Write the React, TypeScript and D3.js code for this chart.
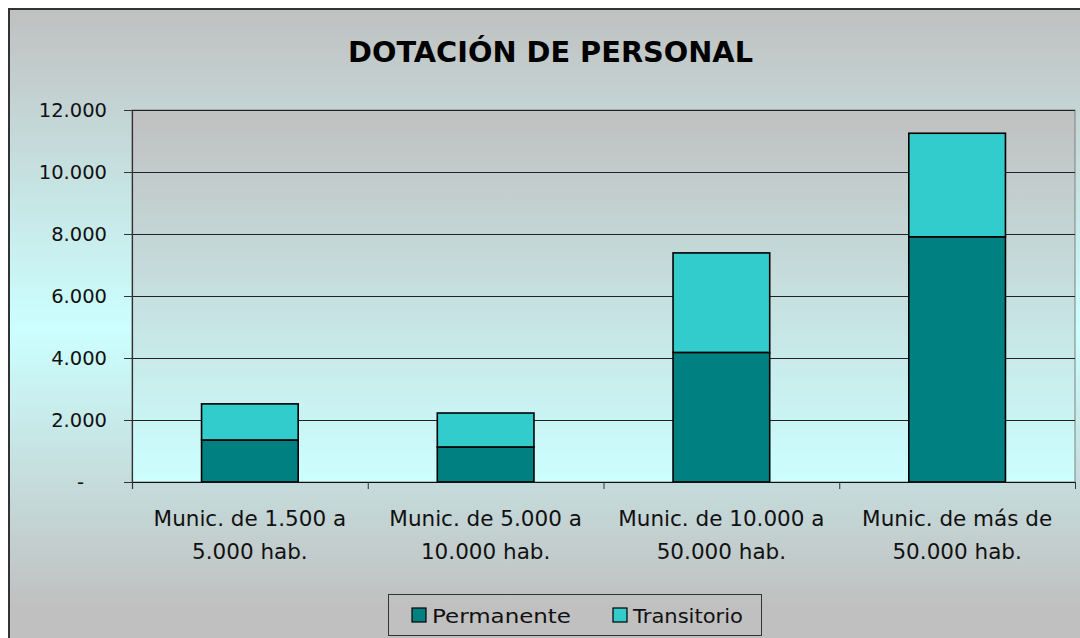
import React from "react";
import * as d3 from "d3";

const categories: string[][] = [
  ["Munic. de 1.500 a", "5.000 hab."],
  ["Munic. de 5.000 a", "10.000 hab."],
  ["Munic. de 10.000 a", "50.000 hab."],
  ["Munic. de más de", "50.000 hab."],
];
const permanente: number[] = [1355, 1130, 4180, 7910];
const transitorio: number[] = [1165, 1095, 3210, 3340];
const yTicks: number[] = [0, 2000, 4000, 6000, 8000, 10000, 12000];
const yTickLabels: string[] = ["-", "2.000", "4.000", "6.000", "8.000", "10.000", "12.000"];
const seriesNames: string[] = ["Permanente", "Transitorio"];
const seriesColors: string[] = ["#008080", "#33CCCC"];
const title = "DOTACIÓN DE PERSONAL";

const W = 1080;
const H = 638;
const plot = { left: 132, right: 1075, top: 110, bottom: 482 };
const FONT = "'DejaVu Sans', 'Century Gothic', sans-serif";

export default function App() {
  const catIdx = categories.map((_, i) => String(i));
  const xCat = d3.scaleBand<string>().domain(catIdx).range([plot.left, plot.right]).padding(0);
  const xBar = d3
    .scaleBand<string>()
    .domain(catIdx)
    .range([plot.left, plot.right])
    .paddingInner(0.59)
    .paddingOuter(0.295);
  const y = d3.scaleLinear().domain([0, 12000]).range([plot.bottom, plot.top]);

  const rows = catIdx.map((k, i) => ({ k, Permanente: permanente[i], Transitorio: transitorio[i] }));
  const stack = d3.stack<any>().keys(seriesNames)(rows);

  const boundaries = d3.range(categories.length + 1).map((i) =>
    i < categories.length ? (xCat(String(i)) as number) : plot.right
  );

  return (
    <svg
      width={W}
      height={H}
      style={{ position: "absolute", left: 0, top: 0, display: "block" }}
      fontFamily={FONT}
    >
      <defs>
        <linearGradient id="chartBg" x1="0" y1="9" x2="0" y2="650" gradientUnits="userSpaceOnUse">
          <stop offset="0" stopColor="#c0c0c0" />
          <stop offset="0.5" stopColor="#ccffff" />
          <stop offset="0.93" stopColor="#c0c0c0" />
          <stop offset="1" stopColor="#c0c0c0" />
        </linearGradient>
        <linearGradient
          id="plotBg"
          x1="0"
          y1={plot.top}
          x2="0"
          y2={plot.bottom}
          gradientUnits="userSpaceOnUse"
        >
          <stop offset="0" stopColor="#c0c0c0" />
          <stop offset="1" stopColor="#ccffff" />
        </linearGradient>
      </defs>

      {/* chart area */}
      <rect x={9} y={9} width={1100} height={660} fill="url(#chartBg)" stroke="#333" strokeWidth={2} />

      {/* title */}
      <text
        x={550.5}
        y={62}
        textAnchor="middle"
        fontSize={29}
        fontWeight="bold"
        fill="#000"
        textLength={405}
        lengthAdjust="spacingAndGlyphs"
      >
        {title}
      </text>

      {/* plot area */}
      <rect
        x={plot.left}
        y={plot.top}
        width={plot.right - plot.left}
        height={plot.bottom - plot.top}
        fill="url(#plotBg)"
        stroke="#808080"
        strokeWidth={1}
      />

      {/* gridlines */}
      {yTicks.map((t) => (
        <line
          key={"g" + t}
          x1={plot.left}
          x2={plot.right}
          y1={Math.round(y(t)) + 0.5}
          y2={Math.round(y(t)) + 0.5}
          stroke="#222"
          strokeWidth={1}
        />
      ))}

      {/* bars */}
      {stack.map((s, si) =>
        s.map((d, i) => {
          const x0 = xBar(String(i)) as number;
          return (
            <rect
              key={si + "-" + i}
              x={x0}
              y={y(d[1])}
              width={xBar.bandwidth()}
              height={y(d[0]) - y(d[1])}
              fill={seriesColors[si]}
              stroke="#000"
              strokeWidth={1.6}
            />
          );
        })
      )}

      {/* y axis */}
      <line x1={plot.left + 0.5} x2={plot.left + 0.5} y1={plot.top} y2={plot.bottom + 7} stroke="#333" strokeWidth={1.2} />
      {yTicks.map((t, i) => (
        <g key={"yt" + t}>
          <line x1={plot.left - 8} x2={plot.left} y1={Math.round(y(t)) + 0.5} y2={Math.round(y(t)) + 0.5} stroke="#333" />
          <text
            x={t === 0 ? 84 : 107}
            y={y(t) + 7}
            textAnchor="end"
            fontSize={19.5}
            fill="#111"
          >
            {yTickLabels[i]}
          </text>
        </g>
      ))}

      {/* x axis */}
      <line x1={plot.left} x2={plot.right} y1={plot.bottom + 0.5} y2={plot.bottom + 0.5} stroke="#111" strokeWidth={1.2} />
      {boundaries.map((bx, i) => (
        <line key={"xt" + i} x1={bx + 0.5} x2={bx + 0.5} y1={plot.bottom} y2={plot.bottom + 7} stroke="#333" />
      ))}
      {categories.map((lines, i) => {
        const cx = (xCat(String(i)) as number) + xCat.bandwidth() / 2;
        return (
          <g key={"cl" + i}>
            {lines.map((ln, li) => (
              <text key={li} x={cx} y={526 + li * 33} textAnchor="middle" fontSize={21.5} fill="#111">
                {ln}
              </text>
            ))}
          </g>
        );
      })}

      {/* legend */}
      <rect x={388.5} y={594.5} width={373} height={41} fill="none" stroke="#333" strokeWidth={1} />
      {seriesNames.map((name, i) => {
        const lx = i === 0 ? 412 : 613;
        return (
          <g key={"lg" + i}>
            <rect x={lx} y={608} width={14} height={14} fill={seriesColors[i]} stroke="#000" strokeWidth={1.2} />
            <text
              x={lx + 20}
              y={623}
              fontSize={20}
              fill="#111"
              textLength={i === 0 ? 139 : 110}
              lengthAdjust="spacingAndGlyphs"
            >
              {name}
            </text>
          </g>
        );
      })}
    </svg>
  );
}
